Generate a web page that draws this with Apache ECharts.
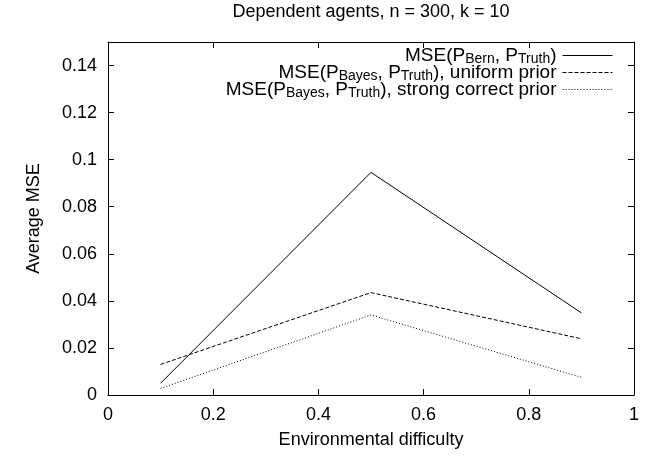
<!DOCTYPE html>
<html>
<head>
<meta charset="utf-8">
<script src="https://cdn.jsdelivr.net/npm/echarts@6/dist/echarts.min.js"></script>
<style>html,body{margin:0;padding:0;background:#fff}#c{width:657px;height:455px}</style>
</head>
<body>
<div id="c"></div>
<script>
const difficulty = [0.1, 0.5, 0.9];
const mseBern = [0.0050, 0.0946, 0.0349];
const mseBayesUniform = [0.0130, 0.0435, 0.0239];
const mseBayesStrong = [0.0028, 0.0340, 0.0075];
const seriesNames = ['bern', 'uniform', 'strong'];
const legendLabels = {
  bern: '{n|MSE(P}{s|Bern}{n|, P}{s|Truth}{n|)}{g|}',
  uniform: '{n|MSE(P}{s|Bayes}{n|, P}{s|Truth}{n|), uniform prior}{g|}',
  strong: '{n|MSE(P}{s|Bayes}{n|, P}{s|Truth}{n|), strong correct prior}{g|}'
};
const titleText = 'Dependent agents, n = 300, k = 10';
const xName = 'Environmental difficulty';
const yName = 'Average MSE';

const FONT = "'Liberation Sans', Arial, Helvetica, sans-serif";
const FS = 18;
const pairs = (xs, ys) => xs.map((x, i) => [x, ys[i]]);

const chart = echarts.init(document.getElementById('c'), null, {renderer: 'canvas'});
const axisCommon = {
  axisLine: {show: true, onZero: false, lineStyle: {color: '#000', width: 1}},
  axisTick: {show: true, inside: true, length: 6, lineStyle: {color: '#000'}},
  splitLine: {show: false}
};
chart.setOption({
  animation: false,
  backgroundColor: '#fff',
  textStyle: {fontFamily: FONT},
  title: {
    text: titleText, left: 371, top: 3, textAlign: 'center', padding: 0,
    textStyle: {fontFamily: FONT, fontSize: FS, fontWeight: 'normal', color: '#000'}
  },
  grid: {left: 108, right: 23, top: 42, bottom: 60, containLabel: false},
  legend: {
    orient: 'vertical', right: 44, top: 45, align: 'right', padding: 0,
    itemWidth: 50, itemHeight: 10, itemGap: -4,
    data: seriesNames,
    formatter: name => legendLabels[name],
    itemStyle: {opacity: 0},
    lineStyle: {width: 1},
    textStyle: {
      color: '#000', fontFamily: FONT,
      rich: {
        n: {fontSize: 19, fontFamily: FONT, color: '#000', lineHeight: 17},
        s: {fontSize: 14, fontFamily: FONT, color: '#000', lineHeight: 14, padding: [7, 0, 0, 0]},
        g: {width: 1}
      }
    }
  },
  xAxis: [
    Object.assign({}, axisCommon, {
      type: 'value', min: 0, max: 1, interval: 0.2, position: 'bottom',
      name: xName, nameLocation: 'middle', nameGap: 36,
      nameTextStyle: {fontSize: FS, color: '#000', fontFamily: FONT},
      axisLabel: {fontSize: FS, color: '#000', margin: 11, fontFamily: FONT,
        formatter: v => String(+v.toFixed(1))}
    }),
    Object.assign({}, axisCommon, {
      type: 'value', min: 0, max: 1, interval: 0.2, position: 'top',
      axisLabel: {show: false}
    })
  ],
  yAxis: [
    Object.assign({}, axisCommon, {
      type: 'value', min: 0, max: 0.15, interval: 0.02, position: 'left',
      name: yName, nameLocation: 'middle', nameGap: 65, nameRotate: 90,
      nameTextStyle: {fontSize: FS, color: '#000', fontFamily: FONT},
      axisLabel: {fontSize: FS, color: '#000', margin: 11, fontFamily: FONT,
        showMaxLabel: false, formatter: v => String(+v.toFixed(2))}
    }),
    Object.assign({}, axisCommon, {
      type: 'value', min: 0, max: 0.15, interval: 0.02, position: 'right',
      axisLabel: {show: false}
    })
  ],
  series: [
    {name: 'bern', type: 'line', data: pairs(difficulty, mseBern), symbol: 'none',
      lineStyle: {color: '#000', width: 1, type: 'solid'}, itemStyle: {color: '#000'}},
    {name: 'uniform', type: 'line', data: pairs(difficulty, mseBayesUniform), symbol: 'none',
      lineStyle: {color: '#000', width: 1, type: [4, 2]}, itemStyle: {color: '#000'}},
    {name: 'strong', type: 'line', data: pairs(difficulty, mseBayesStrong), symbol: 'none',
      lineStyle: {color: '#000', width: 1, type: [1, 2]}, itemStyle: {color: '#000'}}
  ]
});
</script>
</body>
</html>
